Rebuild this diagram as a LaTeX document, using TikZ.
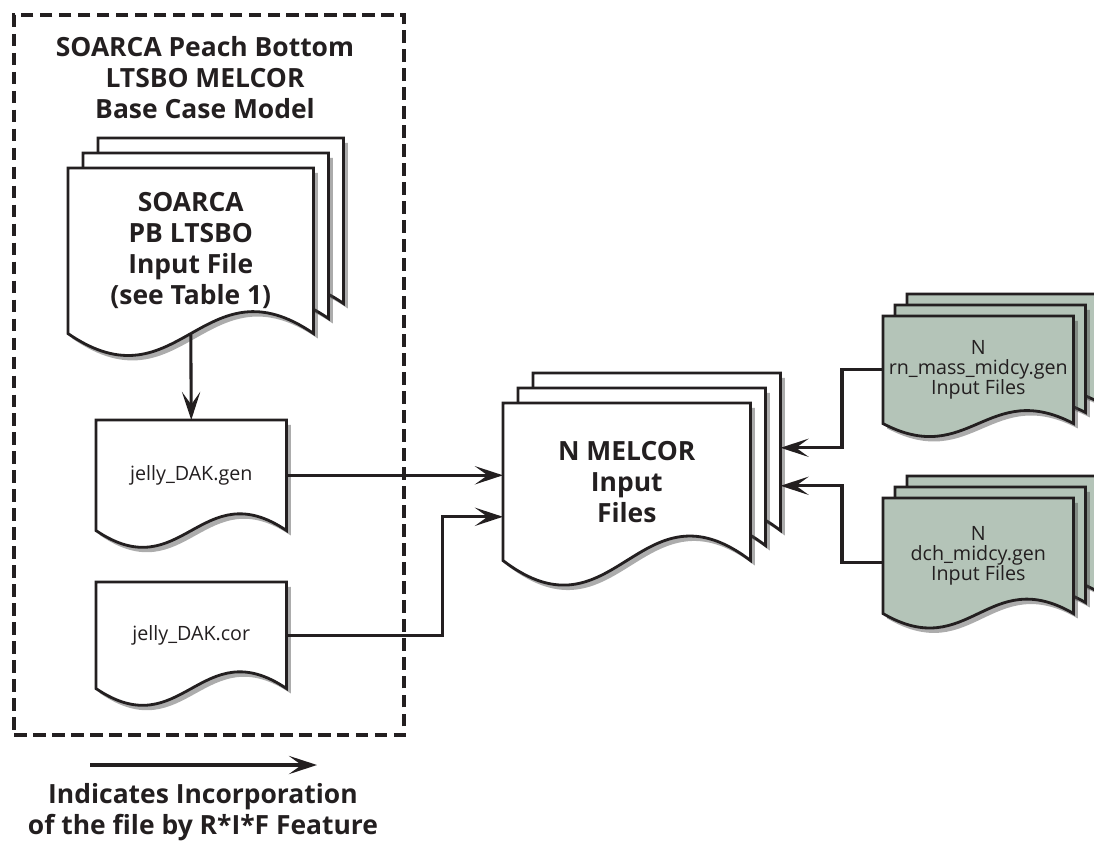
\documentclass[tikz,border=0pt]{standalone}
\usepackage{fontspec}
\setmainfont{Open Sans}
\usepackage{tikz}
\usetikzlibrary{arrows.meta,calc,backgrounds,shadows}
\definecolor{soarcaInk}  {RGB}{35,  31,  32}
\definecolor{soarcaGreen}{RGB}{180, 196, 184}
\definecolor{soarcaShade}{RGB}{70,  70,  70}
\newcommand{\px}{0.025cm}
\tikzset{
  pagebox/.style 2 args={anchor=north west,inner sep=0pt,align=center,
    minimum width=#1*\px,minimum height=#2*\px,text=soarcaInk},
  bigtext/.style={font=\fontsize{18.8}{22}\selectfont\bfseries,align=center,text=soarcaInk},
  smalltext/.style={font=\fontsize{14}{14.5}\selectfont},
  pageline/.style={draw=soarcaInk,line width=2pt,
    drop shadow={shadow xshift=3pt,shadow yshift=-3.5pt,opacity=0.45,fill=soarcaShade}},
  flow/.style={draw=soarcaInk,line width=2.2pt,
    -{Stealth[length=20pt,width=13pt,inset=9pt]}},
  dashframe/.style={draw=soarcaInk,line width=3pt,dash pattern=on 9pt off 4.5pt}
}
% pages behind a node: #1 node, #2 back pages, #3 #4 offset, #5 fill, #6 wave
\newcommand{\docstack}[6]{%
  \begin{scope}[on background layer]
    \foreach \k in {#2,...,0}{
      \path[pageline,fill=#5]
        ($(#1.north west)+({\k*(#3)},{\k*(#4)})$) -- ($(#1.north east)+({\k*(#3)},{\k*(#4)})$)
        -- ($(#1.south east)+({\k*(#3)},{\k*(#4)})$)
        .. controls ($($(#1.south west)!0.55!(#1.south east)$)+({\k*(#3)},{\k*(#4)-#6})$)
        and ($($(#1.south west)!0.45!(#1.south east)$)+({\k*(#3)},{\k*(#4)+#6})$)
        .. ($(#1.south west)+({\k*(#3)},{\k*(#4)})$) -- cycle;
    }
  \end{scope}}

\begin{document}
\begin{tikzpicture}[x=\px,y=-\px]
  \useasboundingbox (0,0) rectangle (1094,844);
  % Base case model
  \node[dashframe,anchor=north west,minimum width=390*\px,minimum height=720*\px] (model) at (12,13) {};
  \node[bigtext] (title) at (205,78) {SOARCA Peach Bottom\\LTSBO MELCOR\\Base Case Model};
  \node[pagebox={245}{165},bigtext] (soarca) at (68,168) {SOARCA\\PB LTSBO\\Input File\\(see Table 1)};
  \node[pagebox={190}{110},smalltext] (gen) at (96,420) {jelly\_DAK.gen};
  \node[pagebox={190}{106},smalltext] (cor) at (96,582) {jelly\_DAK.cor};
  % Generated files
  \node[pagebox={247}{157},bigtext] (melcor) at (503,403) {N MELCOR\\Input\\Files};
  \node[pagebox={190}{107},smalltext] (rn) at (883,316) {N\\rn\_mass\_midcy.gen\\Input Files};
  \node[pagebox={190}{115},smalltext] (dch) at (883,498) {N\\dch\_midcy.gen\\Input Files};
  % Pages
  \docstack{soarca}{2}{15}{-15}{white}{76}
  \docstack{gen}{0}{0}{0}{white}{58}
  \docstack{cor}{0}{0}{0}{white}{58}
  \docstack{melcor}{2}{15}{-15}{white}{85}
  \docstack{rn}{2}{12}{-11}{soarcaGreen}{45}
  \docstack{dch}{2}{12}{-11}{soarcaGreen}{50}
  % Flows
  \draw[flow] (soarca.south) -- (gen.north);
  \draw[flow] (gen.east) -- (gen.east -| melcor.west);
  \draw[flow] (cor.east) -- ++(156,0) |- ($(melcor.west)+(0,35)$);
  \draw[flow] (rn.west) -- ++(-41,0) |- ($(melcor.east)+(30,-34)$);
  \draw[flow] ($(dch.west)+(0,7)$) -- ++(-41,0) |- ($(melcor.east)+(30,4)$);
  % Legend
  \coordinate (keyL) at (90,765);
  \coordinate (keyR) at (317,765);
  \draw[flow] (keyL) -- (keyR);
  \node[bigtext] (keytext) at (203,812) {Indicates Incorporation\\of the file by R*I*F Feature};
\end{tikzpicture}
\end{document}
